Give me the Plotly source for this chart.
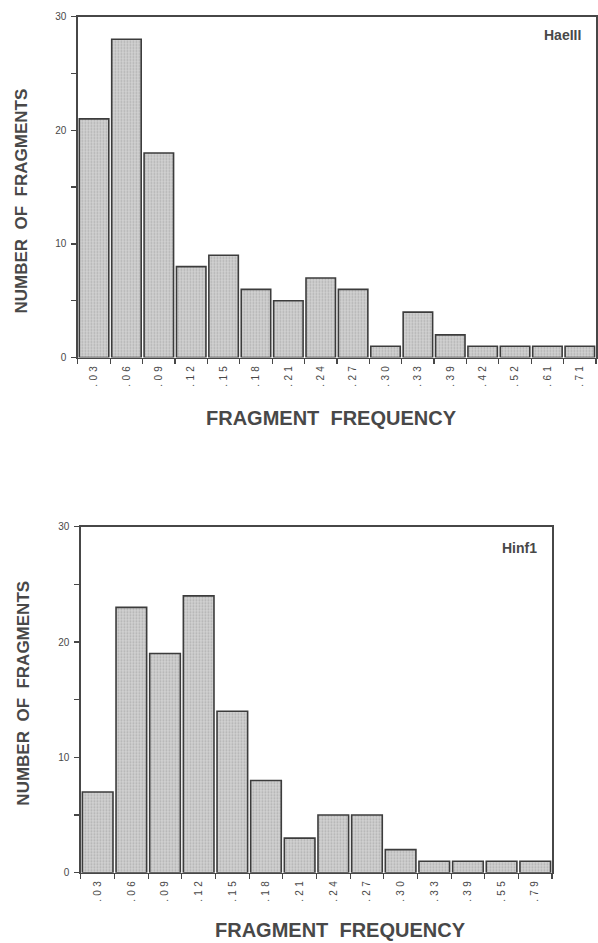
import plotly.graph_objects as go

# ---- data ----
haeiii_categories = [".03", ".06", ".09", ".12", ".15", ".18", ".21", ".24",
                     ".27", ".30", ".33", ".39", ".42", ".52", ".61", ".71"]
haeiii_counts = [21, 28, 18, 8, 9, 6, 5, 7, 6, 1, 4, 2, 1, 1, 1, 1]

hinf1_categories = [".03", ".06", ".09", ".12", ".15", ".18", ".21", ".24",
                    ".27", ".30", ".33", ".39", ".55", ".79"]
hinf1_counts = [7, 23, 19, 24, 14, 8, 3, 5, 5, 2, 1, 1, 1, 1]

y_tickvals = [0, 5, 10, 15, 20, 25, 30]
y_ticktext = ["0", "", "10", "", "20", "", "30"]

W, H = 598, 943
TXT = "#484848"
LINE = "#474747"
FONT = "Liberation Sans, Arial, sans-serif"

# the captured picture is slightly squeezed vertically and offset; map the
# wanted on-picture pixel rows back to figure rows
V_SCALE, V_OFF = 0.987, 5.5


def spaced(s):
    return "\u2004".join(list(s))


def px_x(p):
    return p / W


def px_y(p):
    return 1 - ((p - V_OFF) / V_SCALE) / H


fig = go.Figure()

bar_style = dict(
    marker=dict(
        color="#cccccc",
        line=dict(color="#3c3c3c", width=1.6),
        pattern=dict(shape=".", fgcolor="#8a8a8a", bgcolor="#d2d2d2",
                     size=3, solidity=0.3),
    ),
    showlegend=False,
    hoverinfo="x+y",
)

fig.add_trace(go.Bar(x=haeiii_categories, y=haeiii_counts,
                     xaxis="x", yaxis="y", **bar_style))
fig.add_trace(go.Bar(x=hinf1_categories, y=hinf1_counts,
                     xaxis="x2", yaxis="y2", **bar_style))


def xaxis_cfg(domain, cats):
    return dict(
        domain=domain,
        type="category",
        tickmode="array",
        tickvals=cats,
        ticktext=[spaced(c) for c in cats],
        tickangle=-90,
        tickson="boundaries",
        ticks="outside",
        ticklen=5,
        tickwidth=1.2,
        tickcolor=LINE,
        showline=True,
        linecolor=LINE,
        linewidth=1.5,
        mirror=True,
        showgrid=False,
        zeroline=False,
        range=[-0.5, len(cats) - 0.5],
        tickfont=dict(family=FONT, size=10, color=TXT),
        ticklabelstandoff=3,
        fixedrange=True,
    )


def yaxis_cfg(domain, anchor):
    return dict(
        domain=domain,
        anchor=anchor,
        range=[0, 30],
        tickmode="array",
        tickvals=y_tickvals,
        ticktext=y_ticktext,
        ticks="outside",
        ticklen=5,
        tickwidth=1.2,
        tickcolor=LINE,
        showline=True,
        linecolor=LINE,
        linewidth=1.5,
        mirror=True,
        showgrid=False,
        zeroline=False,
        tickfont=dict(family=FONT, size=10, color=TXT),
        ticklabelstandoff=3,
        fixedrange=True,
    )


top_x = [px_x(78), px_x(597)]
top_y = [px_y(357), px_y(16)]
bot_x = [px_x(81), px_x(553)]
bot_y = [px_y(872), px_y(526)]

fig.update_layout(
    width=W, height=H,
    margin=dict(l=0, r=0, t=0, b=0),
    paper_bgcolor="white",
    plot_bgcolor="white",
    bargap=0.09,
    xaxis=dict(anchor="y", **xaxis_cfg(top_x, haeiii_categories)),
    yaxis=yaxis_cfg(top_y, "x"),
    xaxis2=dict(anchor="y2", **xaxis_cfg(bot_x, hinf1_categories)),
    yaxis2=yaxis_cfg(bot_y, "x2"),
    font=dict(family=FONT, color=TXT),
)

ytitle_font = dict(family=FONT, size=17, color=TXT)
xtitle_font = dict(family=FONT, size=20, color=TXT)
ytitle = "<b>NUMBER&nbsp;&nbsp;OF&nbsp;&nbsp;FRAGMENTS</b>"
xtitle = "<b>FRAGMENT&nbsp;&nbsp;FREQUENCY</b>"

annotations = [
    dict(text=ytitle, x=px_x(22), y=px_y(200), textangle=-90,
         xref="paper", yref="paper", showarrow=False, font=ytitle_font,
         xanchor="center", yanchor="middle"),
    dict(text=ytitle, x=px_x(24), y=px_y(692), textangle=-90,
         xref="paper", yref="paper", showarrow=False, font=ytitle_font,
         xanchor="center", yanchor="middle"),
    dict(text=xtitle, x=px_x(332), y=px_y(417),
         xref="paper", yref="paper", showarrow=False, font=xtitle_font,
         xanchor="center", yanchor="middle"),
    dict(text=xtitle, x=px_x(341), y=px_y(929),
         xref="paper", yref="paper", showarrow=False, font=xtitle_font,
         xanchor="center", yanchor="middle"),
    dict(text="<b>HaeIII</b>", x=px_x(563), y=px_y(34),
         xref="paper", yref="paper", showarrow=False,
         font=dict(family=FONT, size=14, color=TXT),
         xanchor="center", yanchor="middle"),
    dict(text="<b>Hinf1</b>", x=px_x(520), y=px_y(547),
         xref="paper", yref="paper", showarrow=False,
         font=dict(family=FONT, size=14, color=TXT),
         xanchor="center", yanchor="middle"),
]
fig.update_layout(annotations=annotations)

fig.write_html(
    "out.html",
    config={"displayModeBar": False, "staticPlot": True},
    post_script=(
        "document.documentElement.style.overflow='hidden';"
        "document.body.style.margin='0';"
        "document.body.style.overflow='hidden';"
        "var d=document.getElementById('{plot_id}');"
        "d.style.position='fixed';d.style.top='0px';d.style.left='0px';"
    ),
)
